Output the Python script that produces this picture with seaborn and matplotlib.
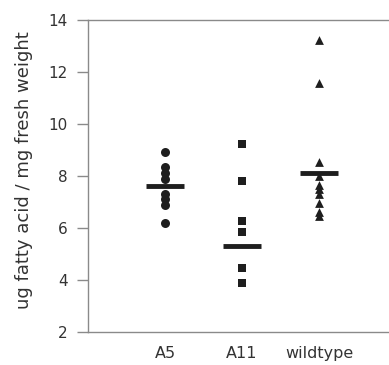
import numpy as np
import pandas as pd
import seaborn as sns
import matplotlib
matplotlib.use("Agg")
import matplotlib.pyplot as plt

# ---- data ----
groups = ["A5", "A11", "wildtype"]
a5_values = [8.93, 8.33, 8.10, 7.87, 7.31, 7.10, 6.88, 6.18]
a11_values = [9.22, 7.80, 6.27, 5.86, 4.45, 3.90]
wildtype_values = [13.23, 11.58, 8.55, 8.00, 7.65, 7.49, 7.30, 6.97, 6.63, 6.46]
group_means = [7.62, 5.30, 8.13]
y_ticks = [2, 4, 6, 8, 10, 12, 14]
y_label = "ug fatty acid / mg fresh weight"

dat = pd.DataFrame({
    "group": ["A5"] * len(a5_values) + ["A11"] * len(a11_values)
             + ["wildtype"] * len(wildtype_values),
    "value": a5_values + a11_values + wildtype_values,
})

sns.set_style("white")
# the reference text is wide, DejaVu Sans is the widest face we have
plt.rcParams["font.family"] = ["DejaVu Sans"]

fig = plt.figure(figsize=(3.89, 3.65), dpi=100)
ax = fig.add_axes([88 / 389, 33 / 365, 308 / 389, 312 / 365])

ink = "#1e1e1e"
text_col = "#333333"
markers = {"A5": "o", "A11": "s", "wildtype": "^"}
sizes = {"A5": 42, "A11": 34, "wildtype": 40}
for g in groups:
    sub = dat[dat["group"] == g]
    sns.stripplot(data=sub, x="group", y="value", order=groups, jitter=False,
                  marker=markers[g], size=np.sqrt(sizes[g]), color=ink,
                  linewidth=0, ax=ax)

# mean bars
pos = np.arange(len(groups))
ax.hlines(group_means, pos - 0.25, pos + 0.25, colors=ink, linewidth=3.5)

ax.set_xlim(-1, 3)
ax.set_ylim(2, 14)
ax.set_yticks(y_ticks)
ax.set_xlabel("")
ax.set_ylabel(y_label, fontsize=13, color=text_col)
ax.yaxis.set_label_coords(-0.179, 0.519)

for side in ["left", "top", "bottom"]:
    ax.spines[side].set_color("#8a8a8a")
    ax.spines[side].set_linewidth(1.0)
ax.spines["right"].set_visible(False)

ax.tick_params(axis="y", left=True, length=8, width=1, color="#8a8a8a",
               pad=6.5, labelsize=11, labelcolor=text_col)
ax.tick_params(axis="x", bottom=False, length=0, pad=10, labelsize=11.5,
               labelcolor=text_col)

fig.savefig("out.png", dpi=100)
